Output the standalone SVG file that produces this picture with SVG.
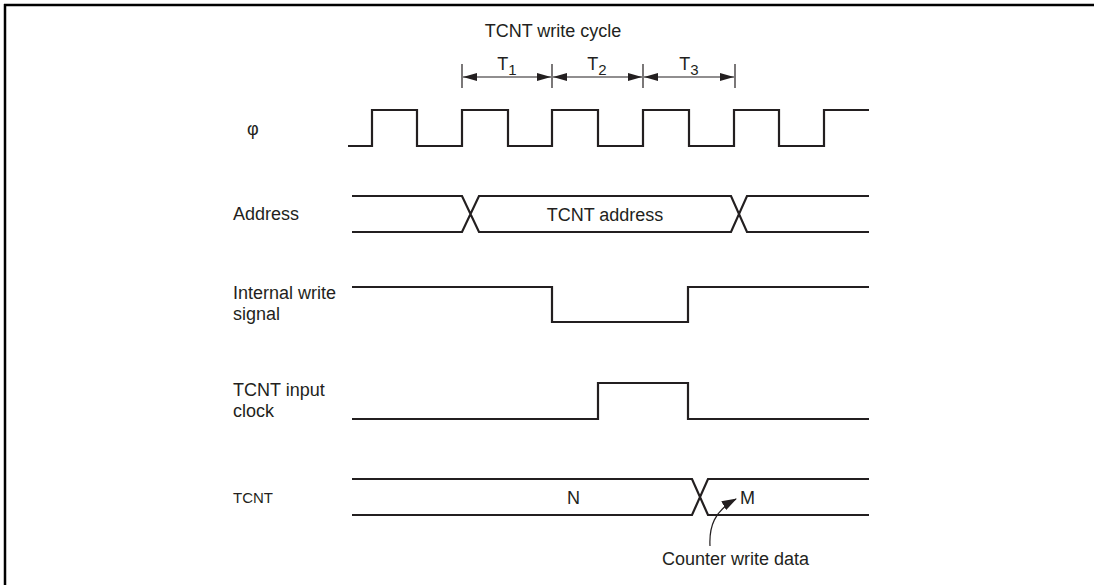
<svg xmlns="http://www.w3.org/2000/svg" width="1094" height="585" viewBox="0 0 1094 585">
<defs>
<style>
.sig{fill:none;stroke:#231f20;stroke-width:2.2;stroke-linejoin:miter}
.dim{fill:none;stroke:#231f20;stroke-width:1.2}
.t{font-family:"Liberation Sans",Arial,sans-serif;font-size:18px;fill:#231f20}
.s{font-size:15px}
.frame{fill:none;stroke:#000;stroke-width:2.5}
</style>
<marker id="ah" viewBox="0 0 14 8" refX="14" refY="4" markerWidth="14" markerHeight="8" markerUnits="userSpaceOnUse" orient="auto-start-reverse">
<path d="M0,0 L14,4 L0,8 z" fill="#231f20"/>
</marker>
<marker id="ah2" viewBox="0 0 15 10" refX="14" refY="5" markerWidth="15" markerHeight="10" markerUnits="userSpaceOnUse" orient="auto">
<path d="M0,0 L15,5 L0,10 z" fill="#231f20"/>
</marker>
</defs>
<path class="frame" d="M4,5 H1094 M5,4 V585"/>
<g id="title">
<text class="t" x="553" y="37" text-anchor="middle">TCNT write cycle</text>
<text class="t" x="507" y="70" text-anchor="middle" font-size="17">T<tspan font-size="15" dy="5">1</tspan></text>
<text class="t" x="597" y="70" text-anchor="middle" font-size="17">T<tspan font-size="15" dy="5">2</tspan></text>
<text class="t" x="689" y="70" text-anchor="middle" font-size="17">T<tspan font-size="15" dy="5">3</tspan></text>
</g>
<g id="connectors">
<path class="dim" d="M462,64 V88 M552,64 V88 M643,64 V88 M735,64 V88"/>
<line class="dim" x1="463" y1="77" x2="551" y2="77" marker-start="url(#ah)" marker-end="url(#ah)"/>
<line class="dim" x1="553" y1="77" x2="642" y2="77" marker-start="url(#ah)" marker-end="url(#ah)"/>
<line class="dim" x1="644" y1="77" x2="734" y2="77" marker-start="url(#ah)" marker-end="url(#ah)"/>
<path class="dim" stroke-width="1.4" d="M710,546 C709,527 714,511 736,499" marker-end="url(#ah2)"/>
</g>
<g id="phi">
<text class="t" x="247" y="135" font-size="17">φ</text>
<path class="sig" d="M348,146 H372 V110 H417 V146 H462 V110 H508 V146 H552 V110 H598 V146 H643 V110 H689 V146 H734 V110 H779 V146 H824 V110 H869"/>
</g>
<g id="address">
<text class="t" x="233" y="220">Address</text>
<path class="sig" d="M352,196 H462 L479,232 H731 L747,196 H869 M352,232 H462 L479,196 H731 L747,232 H869"/>
<text class="t" x="605" y="221" text-anchor="middle">TCNT address</text>
</g>
<g id="internal-write">
<text class="t" x="233" y="299">Internal write</text>
<text class="t" x="233" y="320">signal</text>
<path class="sig" d="M352,287 H552 V322 H688 V287 H869"/>
</g>
<g id="tcnt-clock">
<text class="t" x="233" y="396">TCNT input</text>
<text class="t" x="233" y="417">clock</text>
<path class="sig" d="M352,419 H598 V383 H688 V419 H869"/>
</g>
<g id="tcnt">
<text class="t s" x="233" y="503">TCNT</text>
<path class="sig" d="M352,479 H692 L708,515 H869 M352,515 H692 L708,479 H869"/>
<text class="t" x="567" y="504" font-size="16">N</text>
<text class="t" x="740" y="504" font-size="16">M</text>
<text class="t" x="662" y="565">Counter write data</text>
</g>
</svg>
